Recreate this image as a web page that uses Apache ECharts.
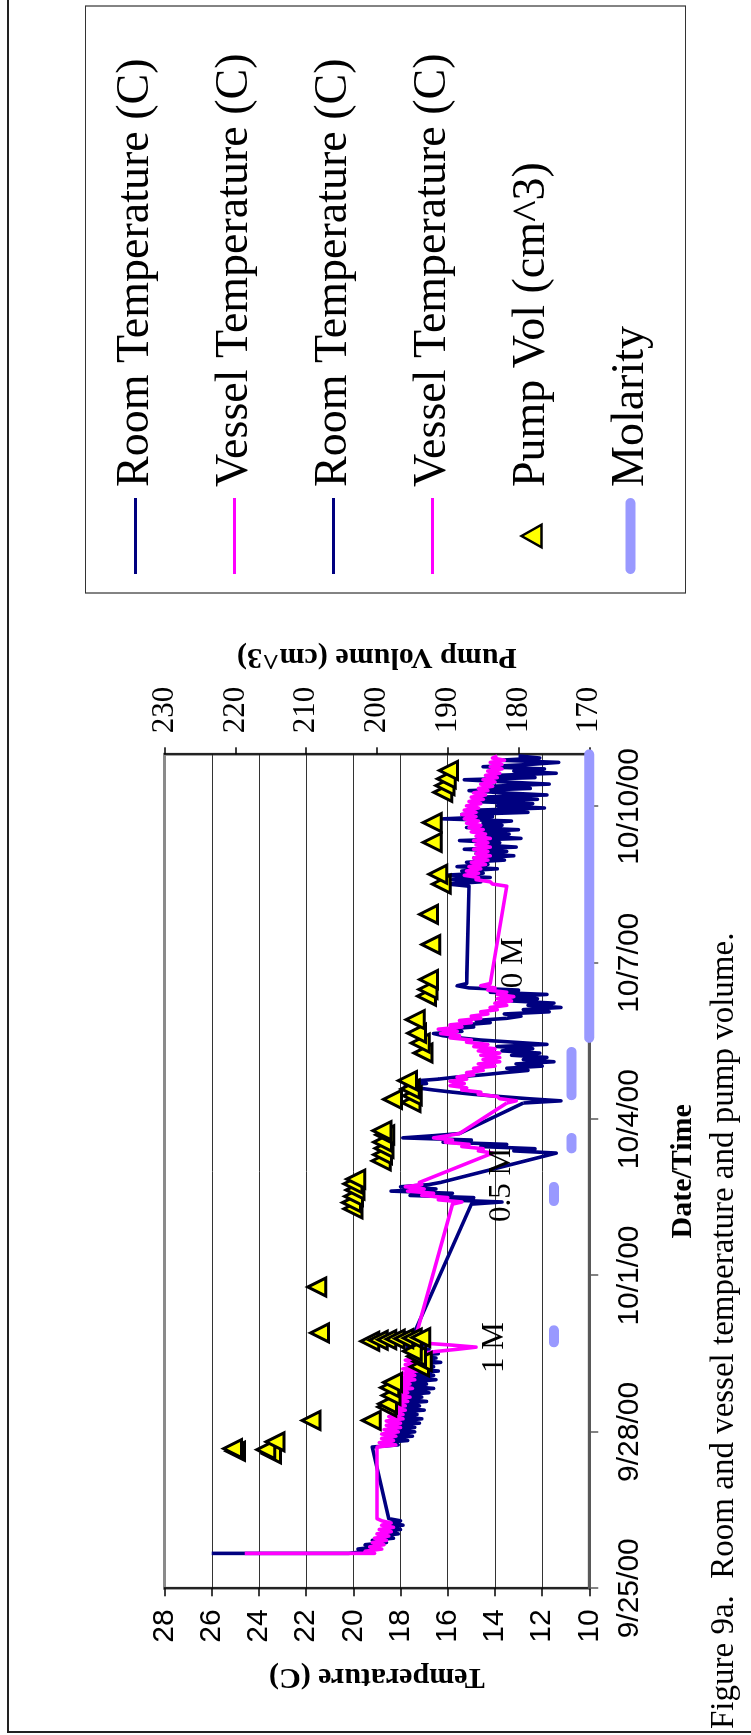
<!DOCTYPE html>
<html>
<head>
<meta charset="utf-8">
<script src="https://cdn.jsdelivr.net/npm/echarts@6/dist/echarts.min.js"></script>
<style>
  html, body { margin: 0; padding: 0; background: #fff; width: 751px; height: 1735px; overflow: hidden; }
  /* The figure is laid out in landscape and turned a quarter turn counter-clockwise onto the portrait page. */
  #chart { position: absolute; left: 0; top: 0; width: 1735px; height: 751px;
           transform-origin: 0 0; transform: translate(0, 1735px) rotate(-90deg); }
</style>
</head>
<body>
<div id="chart"></div>
<script>
// ---- Time base: x values are days after 9/25/00 00:00 ----
const DAY0 = Date.UTC(2000, 8, 25);
const dateTickDays = [0, 3, 6, 9, 12, 15];
const tempTicks = [10, 12, 14, 16, 18, 20, 22, 24, 26, 28];
const volTicks = [170, 180, 190, 200, 210, 220, 230];

// ---- Logger readings: one value per hour from each period start ----
const periodStart = [0.67, 2.71, 7.37, 8.35, 9.31, 13.47];

const roomStartup = [26.0];
const vesselStartup = [24.6];

const roomP1 = [20.2, 19.4, 19.8, 19.0, 19.5, 18.6, 19.2, 18.3, 18.9, 18.1, 18.7, 18.0, 18.6, 17.9, 18.4, 18.0, 18.5];
const vesselP1 = [19.1, 19.5, 18.8, 19.3, 18.7, 19.2, 18.6, 19.1, 18.5, 19.0, 18.4, 18.9, 18.3, 18.8, 18.4, 18.8, 19.0];

const roomP2 = [
  19.2, 18.1, 18.8, 17.7, 18.6, 17.5, 18.5, 17.4, 18.4, 17.4,
  18.3, 17.2, 18.2, 17.1, 18.1, 17.3, 18.3, 17.0, 18.0, 17.2,
  18.1, 16.9, 17.9, 17.1, 18.0, 16.8, 17.8, 16.6, 17.7, 16.9,
  17.6, 16.5, 17.5, 16.6, 17.7, 16.4, 17.4, 16.6, 17.6, 16.3,
  17.3, 16.5, 17.5, 16.4, 17.4, 16.8, 17.7, 17.0, 18.3, 17.3,
  18.6, 17.4, 18.3, 17.4];
const vesselP2 = [
  19.0, 18.2, 18.9, 18.3, 18.8, 18.2, 18.8, 18.1, 18.7, 18.0,
  18.6, 18.0, 18.6, 17.9, 18.5, 17.9, 18.5, 17.8, 18.4, 17.8,
  18.4, 17.7, 18.3, 17.6, 18.2, 17.7, 18.2, 17.5, 18.1, 17.6,
  18.1, 17.4, 18.0, 17.4, 17.9, 17.3, 17.9, 17.3, 17.8, 17.2,
  17.8, 17.3, 17.6, 17.2, 16.5, 15.6, 14.8, 15.9, 17.2, 16.8,
  17.5, 16.9, 17.4, 17.3];

const roomP3 = [15.0, 13.7, 16.2, 14.9, 17.6, 15.8, 18.4, 16.5, 18.0, 16.8, 16.3];
const vesselP3 = [15.8, 15.4, 16.4, 16.0, 17.1, 16.6, 17.7, 17.0, 17.8, 17.1, 17.2];

const roomP4 = [11.4, 13.2, 12.3, 14.6, 13.5, 16.2, 15.0, 17.9, 16.6, 15.5];
const vesselP4 = [14.1, 14.7, 14.5, 15.4, 15.1, 16.1, 15.8, 16.6, 16.0, 15.5];

const roomP5 = [
  12.8, 11.2, 12.6, 13.8, 14.9, 15.8, 16.6, 17.3,
  17.8, 16.9, 17.6, 16.4, 15.6, 14.5, 13.6, 12.6,
  13.5, 12.0, 13.1, 11.5, 12.8, 11.8, 13.3, 12.1,
  13.7, 12.4, 13.9, 11.8, 13.2, 14.6, 15.5, 16.2,
  16.6, 15.4, 16.1, 14.9, 15.3, 14.2, 14.8, 13.5,
  12.9, 13.6, 11.7, 12.8, 11.2, 12.6, 11.5, 13.3,
  12.2, 13.5, 11.8, 14.2, 13.0, 15.1, 15.6, 15.2];
const vesselP5 = [
  13.5, 13.1, 13.8, 13.9, 14.7, 14.6, 15.4, 15.2,
  15.9, 15.3, 15.9, 15.2, 15.6, 14.9, 15.2, 14.5,
  14.9, 14.0, 14.7, 13.8, 14.5, 13.8, 14.6, 13.8,
  14.7, 14.0, 14.9, 14.3, 15.2, 15.0, 15.9, 15.5,
  16.3, 15.6, 16.4, 15.4, 15.9, 15.0, 15.5, 14.6,
  15.0, 14.3, 14.6, 13.9, 14.2, 13.5, 14.0, 13.3,
  13.9, 13.2, 13.9, 13.5, 14.3, 14.0, 14.6, 14.2];

const roomP6 = [
  15.1, 16.0, 14.6, 15.8, 14.2, 16.2, 14.5, 15.4,
  13.9, 15.6, 14.3, 15.2, 13.6, 14.9, 13.2, 14.8,
  13.5, 15.3, 13.1, 14.6, 13.8, 15.5, 12.9, 14.4,
  13.4, 14.9, 13.0, 15.2, 13.7, 14.5, 13.3, 16.2,
  14.1, 15.4, 12.6, 14.8, 11.9, 13.9, 12.4, 15.0,
  12.2, 14.6, 11.8, 13.7, 15.1, 12.5, 14.2, 11.7,
  13.6, 15.3, 12.3, 14.0, 11.4, 13.2, 11.9, 14.5,
  12.6, 11.3, 13.8, 12.1, 13.0];
const vesselP6 = [
  13.5, 14.1, 14.2, 14.8, 14.7, 15.3, 14.7, 15.2,
  14.6, 15.1, 14.4, 15.0, 14.3, 14.9, 14.2, 14.8,
  14.3, 14.9, 14.2, 14.8, 14.3, 14.9, 14.2, 14.8,
  14.4, 15.0, 14.5, 15.1, 14.6, 15.2, 14.7, 15.3,
  14.8, 15.4, 14.8, 15.3, 14.7, 15.2, 14.6, 15.1,
  14.5, 15.0, 14.4, 14.9, 14.3, 14.7, 14.1, 14.6,
  14.0, 14.5, 13.9, 14.4, 13.8, 14.3, 13.7, 14.2,
  13.7, 14.2, 13.6, 14.1, 13.9];

// ---- Pump volume readings (cm^3), secondary axis ----
const pumpDay = [2.58, 2.63, 2.66, 2.68, 2.81, 3.22, 3.22, 3.48, 3.54, 3.70, 3.85, 3.95,
  4.25, 4.35, 4.45, 4.55, 4.74, 4.76, 4.77, 4.78, 4.79, 4.80, 4.81, 4.90, 5.78,
  7.28, 7.40, 7.52, 7.64, 7.76, 7.85, 8.20, 8.32, 8.44, 8.56, 8.70, 8.78,
  9.32, 9.38, 9.45, 9.58, 9.74, 10.27, 10.46, 10.65, 10.91, 11.36, 11.49, 11.68,
  12.35, 12.93, 13.51, 13.70, 14.31, 14.69, 15.27, 15.40, 15.53, 15.69];
const pumpVol = [214.9, 220.0, 215.7, 220.4, 214.4, 209.3, 200.8, 198.6, 198.5, 198.0, 198.2, 197.8,
  194.0, 193.6, 194.4, 195.0, 201.0, 199.8, 198.6, 197.4, 196.2, 195.0, 193.8, 208.1, 208.5,
  203.4, 203.6, 203.3, 203.1, 203.4, 203.0, 199.4, 199.2, 199.0, 199.2, 198.9, 199.3,
  195.2, 197.8, 195.0, 195.3, 195.7, 193.5, 193.9, 194.4, 194.6, 193.0, 192.8, 192.7,
  192.4, 192.7, 190.9, 191.4, 192.2, 192.2, 190.7, 190.4, 190.2, 189.9];

// ---- Molarity trace (drawn on the temperature scale) ----
const molFrom = [4.72, 7.43, 8.44, 9.46, 10.56];
const molTo = [4.95, 7.70, 8.64, 10.29, 16.0];
const molLevel = [11.5, 11.5, 10.75, 10.75, 10.0];
const molNoteText = ['1 M', '0.5 M', '0 M'];
const molNoteDay = [4.62, 7.74, 12.0];
const molNoteTemp = [14.0, 13.7, 13.2];

// ---- Build point lists ----
const HOUR = 1 / 24;
function periodPoints(k, values) {
  return values.map((v, i) => [periodStart[k] + i * HOUR, v]);
}
const roomA = [[periodStart[0], roomStartup[0]]].concat(
  periodPoints(0, roomP1), periodPoints(1, roomP2), periodPoints(2, roomP3), periodPoints(3, roomP4),
  [periodPoints(4, roomP5)[0]]);
const roomB = periodPoints(4, roomP5).concat(periodPoints(5, roomP6));
const vesselA = [[periodStart[0], vesselStartup[0]]].concat(
  periodPoints(0, vesselP1), periodPoints(1, vesselP2), periodPoints(2, vesselP3), periodPoints(3, vesselP4),
  [periodPoints(4, vesselP5)[0]]);
const vesselB = periodPoints(4, vesselP5).concat(periodPoints(5, vesselP6));
const pumpPts = pumpDay.map((d, i) => [d, pumpVol[i]]);
const molPts = [];
molFrom.forEach((d, i) => {
  if (i > 0) molPts.push([d - 0.01, null]);
  molPts.push([d, molLevel[i]], [molTo[i], molLevel[i]]);
});

function fmtDate(d) {
  const dt = new Date(DAY0 + d * 86400000);
  return (dt.getUTCMonth() + 1) + '/' + dt.getUTCDate() + '/' + String(dt.getUTCFullYear()).slice(2);
}

const SANS = '"Liberation Sans", Arial, sans-serif';
const SERIF = '"Liberation Serif", "Times New Roman", serif';
const NAVY = '#000080', MAGENTA = '#FF00FF', LAV = '#9999FF';
const LINE_ICON = 'path://M0,0H76V3H0Z';
const BAR_ICON = 'path://M5,0H71A5,5,0,0,1,71,10H5A5,5,0,0,1,5,0Z';
const TRI_ICON = 'path://M9,0L18,16L0,16Z';

const ROOM = 'Room Temperature (C)';
const VESSEL = 'Vessel Temperature (C)';
const TEMP_LINE_W = 3.6;

const chart = echarts.init(document.getElementById('chart'), null, { renderer: 'canvas' });
chart.setOption({
  animation: false,
  backgroundColor: '#fff',
  grid: {
    left: 146.7, right: 754.3, top: 164.6, bottom: 161.7,
    show: true, borderColor: '#8a8a8a', borderWidth: 3, backgroundColor: '#fff',
    containLabel: false, outerBoundsMode: 'none'
  },
  xAxis: {
    type: 'value', min: 0, max: 16, interval: 3,
    name: 'Date/Time', nameLocation: 'middle', nameGap: 79, nameMoveOverlap: false,
    nameTextStyle: { fontFamily: SERIF, fontWeight: 'bold', fontSize: 30, color: '#000' },
    axisLine: { show: true, onZero: false, lineStyle: { color: '#595959', width: 3 } },
    axisTick: { show: true, length: 9, customValues: dateTickDays, lineStyle: { color: '#595959', width: 1.5 } },
    axisLabel: { show: true, customValues: dateTickDays, margin: 25, fontFamily: SANS, fontSize: 30, color: '#000',
      formatter: v => (dateTickDays.indexOf(v) >= 0 ? fmtDate(v) : '') },
    splitLine: { show: false }
  },
  yAxis: [{
    type: 'value', min: tempTicks[0], max: tempTicks[tempTicks.length - 1], interval: 2, position: 'left',
    name: 'Temperature (C)', nameLocation: 'middle', nameGap: 73, nameRotate: 90, nameMoveOverlap: false,
    nameTextStyle: { fontFamily: SERIF, fontWeight: 'bold', fontSize: 30, color: '#000' },
    axisLine: { show: true, onZero: false, lineStyle: { color: '#000', width: 1.5 } },
    axisTick: { show: true, length: 8, lineStyle: { color: '#000', width: 1.5 } },
    axisLabel: { show: true, margin: 21, fontFamily: SANS, fontSize: 30, color: '#000' },
    splitLine: { show: true, showMinLine: false, showMaxLine: false, lineStyle: { color: '#333', width: 1 } }
  }, {
    type: 'value', min: volTicks[0], max: volTicks[volTicks.length - 1], interval: 10, position: 'right',
    name: 'Pump Volume (cm^3)', nameLocation: 'middle', nameGap: 83, nameRotate: 90, nameMoveOverlap: false,
    nameTextStyle: { fontFamily: SERIF, fontWeight: 'bold', fontSize: 30, color: '#000' },
    axisLine: { show: true, onZero: false, lineStyle: { color: '#000', width: 1.5 } },
    axisTick: { show: true, length: 7, lineStyle: { color: '#000', width: 1.5 } },
    axisLabel: { show: true, margin: 21, fontFamily: SERIF, fontSize: 31, color: '#000' },
    splitLine: { show: false }
  }],
  legend: {
    orient: 'vertical', left: 1161, top: 110.5, padding: 0,
    itemWidth: 76, itemHeight: 20, itemGap: 49, symbolKeepAspect: true,
    textStyle: { fontFamily: SERIF, fontSize: 46, color: '#000', lineHeight: 50, padding: [0, 0, 0, 6] },
    data: [
      { name: ROOM, icon: LINE_ICON },
      { name: VESSEL, icon: LINE_ICON },
      { name: ROOM + ' ', icon: LINE_ICON },
      { name: VESSEL + ' ', icon: LINE_ICON },
      { name: 'Pump Vol (cm^3)', icon: TRI_ICON, itemStyle: { borderWidth: 2.5, borderColor: '#000' } },
      { name: 'Molarity', icon: BAR_ICON }
    ]
  },
  graphic: [
    { type: 'line', silent: true, shape: { x1: 3, y1: 7, x2: 3, y2: 751 }, style: { stroke: '#222', lineWidth: 2 } },
    { type: 'line', silent: true, shape: { x1: 3, y1: 8, x2: 1735, y2: 8 }, style: { stroke: '#222', lineWidth: 2 } },
    { type: 'rect', silent: true, z: -1, shape: { x: 1142, y: 85.5, width: 587, height: 600 },
      style: { fill: 'none', stroke: '#333', lineWidth: 1.2 } },
    { type: 'text', silent: true, x: 6, y: 724.5,
      style: { text: 'Figure 9a.  Room and vessel temperature and pump volume.',
        font: '33px "Liberation Serif", serif', fill: '#000', align: 'left', verticalAlign: 'middle' } }
  ],
  series: [
    {
      name: 'Molarity', type: 'line', yAxisIndex: 0, data: molPts, connectNulls: false,
      symbol: 'none', showSymbol: false, clip: false, z: 1,
      itemStyle: { color: LAV }, lineStyle: { color: LAV, width: 10, cap: 'round' },
      markPoint: {
        symbol: 'circle', symbolSize: 0, silent: true,
        label: { show: true, position: 'inside', formatter: '{b}', fontFamily: SERIF, fontSize: 31, color: '#000' },
        data: molNoteText.map((t, i) => ({ name: t, coord: [molNoteDay[i], molNoteTemp[i]] }))
      }
    },
    { name: ROOM, type: 'line', yAxisIndex: 0, data: roomA, symbol: 'none', showSymbol: false, z: 2,
      itemStyle: { color: NAVY }, lineStyle: { color: NAVY, width: TEMP_LINE_W, join: 'round' } },
    { name: VESSEL, type: 'line', yAxisIndex: 0, data: vesselA, symbol: 'none', showSymbol: false, z: 2,
      itemStyle: { color: MAGENTA }, lineStyle: { color: MAGENTA, width: TEMP_LINE_W, join: 'round' } },
    { name: ROOM + ' ', type: 'line', yAxisIndex: 0, data: roomB, symbol: 'none', showSymbol: false, z: 2,
      itemStyle: { color: NAVY }, lineStyle: { color: NAVY, width: TEMP_LINE_W, join: 'round' } },
    { name: VESSEL + ' ', type: 'line', yAxisIndex: 0, data: vesselB, symbol: 'none', showSymbol: false, z: 2,
      itemStyle: { color: MAGENTA }, lineStyle: { color: MAGENTA, width: TEMP_LINE_W, join: 'round' } },
    { name: 'Pump Vol (cm^3)', type: 'scatter', yAxisIndex: 1, data: pumpPts, z: 3,
      symbol: 'triangle', symbolSize: [18, 18],
      itemStyle: { color: '#FFFF00', borderColor: '#000', borderWidth: 3, opacity: 1 } }
  ]
});
</script>
</body>
</html>
